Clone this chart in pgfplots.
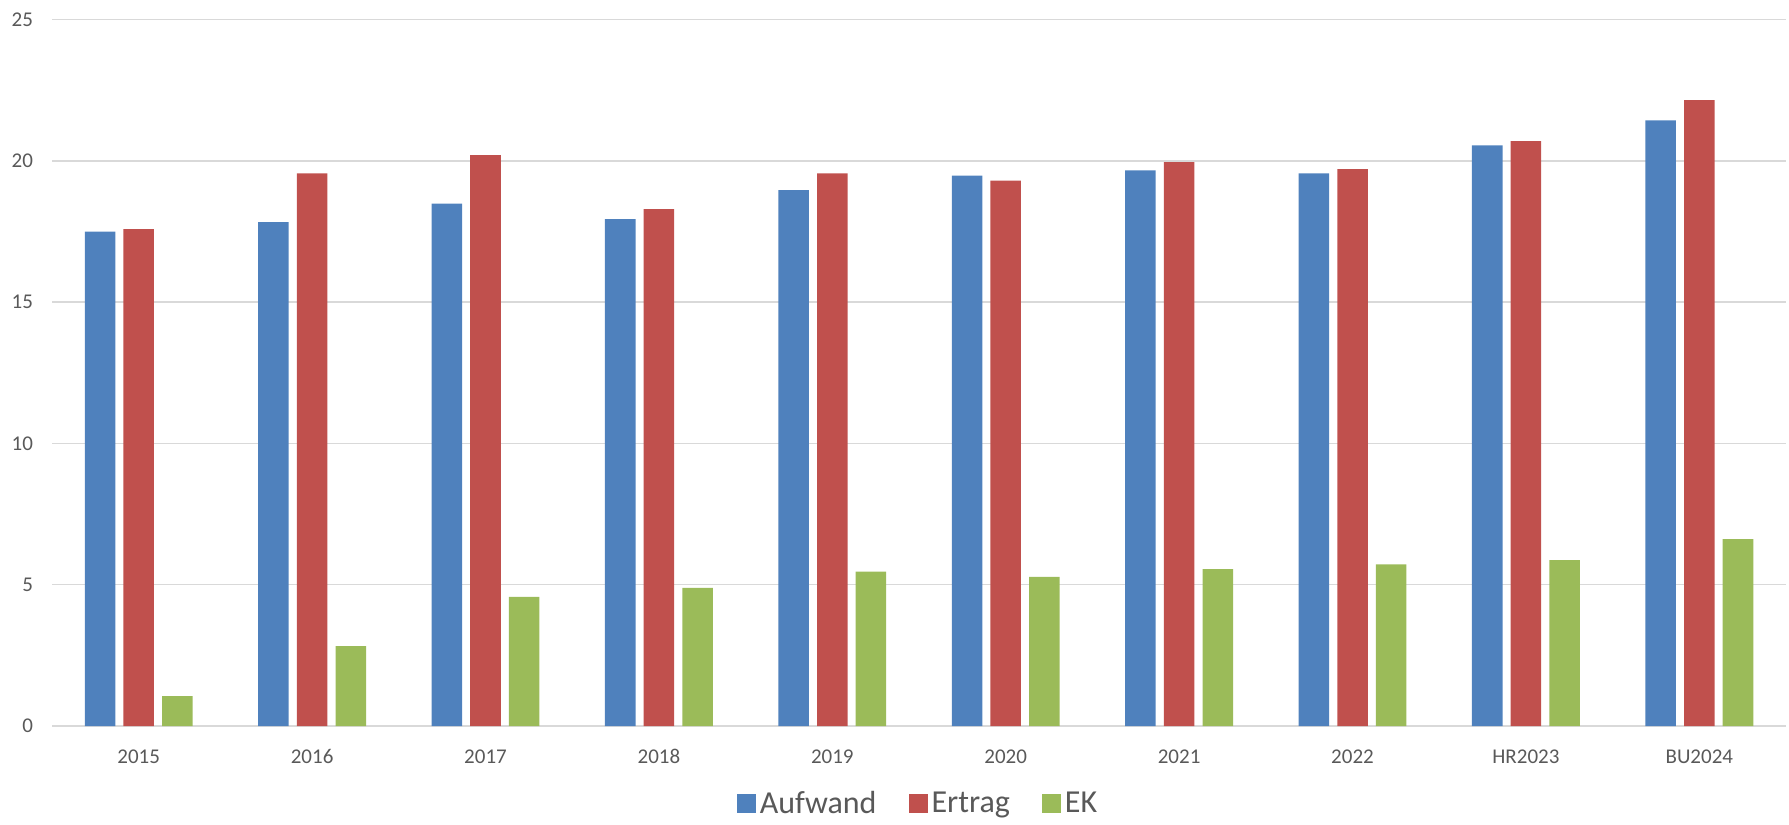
\documentclass[border=0pt]{standalone}
\usepackage{fontspec}
\setmainfont{Carlito}
\usepackage{pgfplots}
\pgfplotsset{compat=1.18}
\definecolor{aufwand}{HTML}{4F81BD}
\definecolor{ertrag}{HTML}{C0504D}
\definecolor{ek}{HTML}{9BBB59}
\definecolor{gridgray}{HTML}{D9D9D9}
\definecolor{labelgray}{HTML}{595959}

\begin{document}
\begin{tikzpicture}
\begin{axis}[
  scale only axis, width=867pt, height=353.3pt,
  at={(0,0)}, anchor=south west,
  ybar, bar width=0.176,
  xmin=-0.5, xmax=9.5, ymin=0, ymax=25,
  xtick=data,
  xticklabels={2015,2016,2017,2018,2019,2020,2021,2022,HR2023,BU2024},
  ytick={0,5,...,25},
  ymajorgrids, grid style={gridgray, line width=0.8pt},
  axis line style={draw=none},
  tick style={draw=none},
  ticklabel style={font=\fontsize{10.5}{12}\selectfont, text=labelgray},
  /pgf/number format/assume math mode=true,
  yticklabel style={xshift=-6pt},
  xticklabel style={yshift=-4pt},
  legend style={at={(0.5,-0.110)}, anchor=center, legend columns=3, draw=none,
    font=\fontsize{16}{19}\selectfont, text=labelgray,
    /tikz/every even column/.append style={column sep=14pt}},
  legend image code/.code={\fill[#1] (0pt,-4.75pt) rectangle (9.5pt,4.75pt);},
]
\addplot[fill=aufwand, draw=none, bar shift=-0.223] coordinates {
  (0,17.49) (1,17.83) (2,18.48) (3,17.93) (4,18.96)
  (5,19.47) (6,19.66) (7,19.55) (8,20.54) (9,21.43)};
\addplot[fill=ertrag, draw=none, bar shift=0] coordinates {
  (0,17.58) (1,19.55) (2,20.20) (3,18.29) (4,19.55)
  (5,19.30) (6,19.95) (7,19.70) (8,20.69) (9,22.14)};
\addplot[fill=ek, draw=none, bar shift=0.223] coordinates {
  (0,1.06) (1,2.83) (2,4.57) (3,4.89) (4,5.46)
  (5,5.28) (6,5.55) (7,5.72) (8,5.87) (9,6.61)};
\legend{Aufwand,Ertrag,EK}
\end{axis}
\path (-26pt,-47.5pt) rectangle (868.5pt,363pt);
\end{tikzpicture}
\end{document}
